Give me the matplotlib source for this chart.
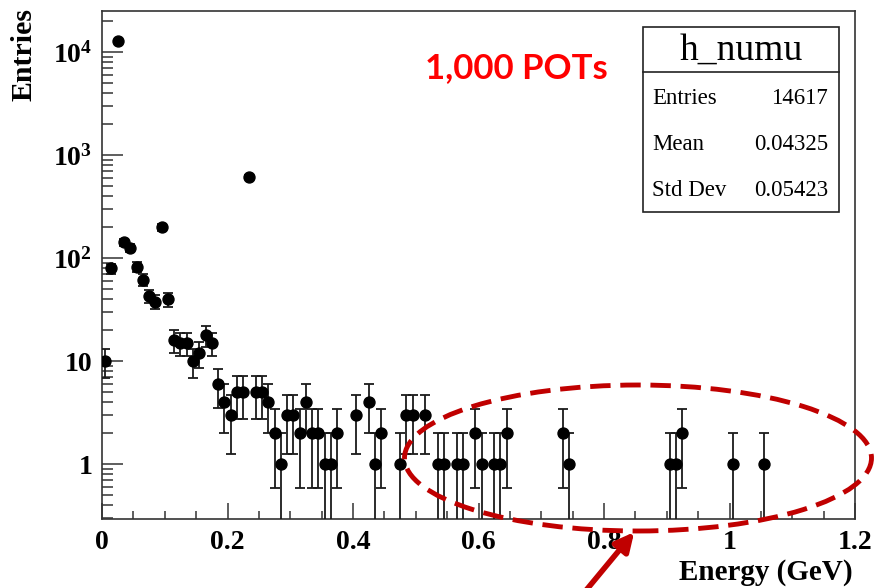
import numpy as np
import matplotlib
matplotlib.use("Agg")
import matplotlib.pyplot as plt
from matplotlib.patches import Ellipse, Rectangle, FancyArrowPatch
from matplotlib.lines import Line2D
from matplotlib.ticker import FixedLocator, MultipleLocator, LogLocator, NullFormatter

# Histogram h_numu: bin centres (GeV, bin width 0.01) and counts per bin
energy = [0.005, 0.015, 0.025, 0.035, 0.045, 0.055, 0.065, 0.075, 0.085, 0.095,
          0.105, 0.115, 0.125, 0.135, 0.145, 0.155, 0.165, 0.175, 0.185, 0.195,
          0.205, 0.215, 0.225, 0.235, 0.245, 0.255, 0.265, 0.275, 0.285, 0.295,
          0.305, 0.315, 0.325, 0.335, 0.345, 0.355, 0.365, 0.375, 0.405, 0.425,
          0.435, 0.445, 0.475, 0.485, 0.495, 0.515, 0.535, 0.545, 0.565, 0.575,
          0.595, 0.605, 0.625, 0.635, 0.645, 0.735, 0.745, 0.905, 0.915, 0.925,
          1.005, 1.055]
counts = [10, 80, 12974, 143, 126, 83, 62, 43, 38, 200,
          40, 16, 15, 15, 10, 12, 18, 15, 6, 4,
          3, 5, 5, 617, 5, 5, 4, 2, 1, 3,
          3, 2, 4, 2, 2, 1, 1, 2, 3, 4,
          1, 2, 1, 3, 3, 3, 1, 1, 1, 1,
          2, 1, 1, 1, 2, 2, 1, 1, 1, 2,
          1, 1]

x_ticks = [0, 0.2, 0.4, 0.6, 0.8, 1.0, 1.2]
x_ticklabels = ["0", "0.2", "0.4", "0.6", "0.8", "1", "1.2"]
y_ticks = [1, 10, 100, 1000, 10000]
y_ticklabels = ["1", "10", r"10$^{2}$", r"10$^{3}$", r"10$^{4}$"]

stats_title = "h_numu"
stats_names = ["Entries", "Mean", "Std Dev"]
stats_values = ["14617", "0.04325", "0.05423"]

plt.rcParams["mathtext.fontset"] = "custom"
plt.rcParams["mathtext.rm"] = "Liberation Serif:bold"
plt.rcParams["mathtext.it"] = "Liberation Serif:bold"
plt.rcParams["mathtext.bf"] = "Liberation Serif:bold"

W, H = 877, 588
fig = plt.figure(figsize=(W / 100, H / 100), dpi=100)
fig.patch.set_facecolor("white")


def fx(px):
    return px / W


def fy(py):
    return 1 - py / H


ax = fig.add_axes([fx(102), fy(519), fx(855) - fx(102), fy(11) - fy(519)])

e = np.array(energy)
n = np.array(counts, dtype=float)
err = np.sqrt(n)
lower = np.minimum(err, n - 1e-3)
ax.errorbar(e, n, yerr=[lower, err], fmt="o", color="black", ms=7.9,
            ecolor="#1a1a1a", elinewidth=1.3, capsize=3.8, capthick=1.3,
            zorder=3)

ax.set_yscale("log")
ax.set_xlim(0, 1.2)
ax.set_ylim(0.294, 2.52e4)

ax.xaxis.set_major_locator(FixedLocator(x_ticks))
ax.set_xticklabels(x_ticklabels)
ax.xaxis.set_minor_locator(MultipleLocator(0.05))
ax.yaxis.set_major_locator(FixedLocator(y_ticks))
ax.set_yticklabels(y_ticklabels)
ax.yaxis.set_minor_locator(LogLocator(base=10, subs=np.arange(2, 10)))
ax.yaxis.set_minor_formatter(NullFormatter())

for lab in ax.get_xticklabels() + ax.get_yticklabels():
    lab.set_fontfamily("Liberation Serif")
    lab.set_fontweight("bold")
    lab.set_fontsize(20)

ax.tick_params(axis="both", which="both", direction="in", top=False,
               right=False, color="#333333", width=1.1)
ax.tick_params(axis="y", which="major", length=15, pad=7)
ax.tick_params(axis="y", which="minor", length=8)
ax.tick_params(axis="x", which="major", length=11.5, pad=8)
ax.tick_params(axis="x", which="minor", length=6)
for sp in ax.spines.values():
    sp.set_linewidth(1.2)
    sp.set_color("#333333")

# Axis titles
fig.text(fx(853), fy(572), "Energy (GeV)", ha="right", va="center",
         fontfamily="Liberation Serif", fontweight="bold", fontsize=21)
fig.text(fx(24), fy(8), "Entries", ha="center", va="top", rotation=90,
         fontfamily="Liberation Serif", fontweight="bold", fontsize=21.5)

# Statistics box
bx0, bx1, by0, by1, bsep = 643, 839, 27, 212, 72
fig.patches.append(Rectangle((fx(bx0), fy(by1)), fx(bx1) - fx(bx0),
                             fy(by0) - fy(by1), transform=fig.transFigure,
                             facecolor="white", edgecolor="#222222",
                             linewidth=1.2, zorder=5))
fig.lines.append(Line2D([fx(bx0), fx(bx1)], [fy(bsep), fy(bsep)],
                        transform=fig.transFigure, color="#222222",
                        linewidth=1.2, zorder=6))
fig.text(fx((bx0 + bx1) / 2), fy(50), stats_title, ha="center", va="center",
         fontfamily="Liberation Serif", fontsize=27, zorder=7)
for i, (name, val) in enumerate(zip(stats_names, stats_values)):
    yy = fy(98 + 46 * i)
    fig.text(fx(652), yy, name, ha="left", va="center",
             fontfamily="Liberation Serif", fontsize=16.5, zorder=7)
    fig.text(fx(828), yy, val, ha="right", va="center",
             fontfamily="Liberation Serif", fontsize=16.5, zorder=7)

# Annotation
fig.text(fx(516), fy(68), "1,000 POTs", ha="center", va="center",
         fontfamily="Lato", fontweight="bold", fontsize=25, color="#ff0000")

dark_red = "#c00000"
ell = Ellipse((fx(638), fy(458)), fx(467), 146 / H, transform=fig.transFigure,
              fill=False, edgecolor=dark_red, linewidth=3.5,
              linestyle=(0, (4.2, 2.0)), zorder=8)
fig.patches.append(ell)

fig.add_artist(FancyArrowPatch(
    (fx(583), fy(594)), (fx(636), fy(530)), transform=fig.transFigure,
    arrowstyle="-|>", mutation_scale=28, color=dark_red, linewidth=4,
    zorder=9))

fig.savefig("out.png", dpi=100)
